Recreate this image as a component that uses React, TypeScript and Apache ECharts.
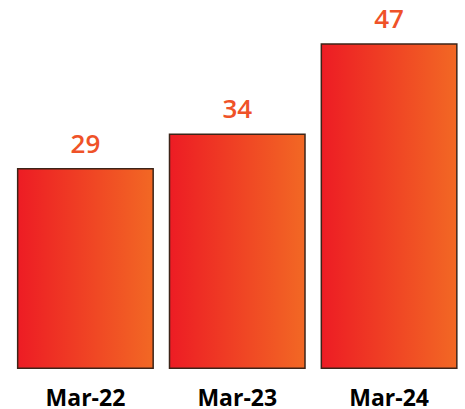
import React, { useEffect, useRef } from "react";
import * as echarts from "echarts";

const categories = ["Mar-22", "Mar-23", "Mar-24"];
const values = [29, 34, 47];

export default function App() {
  const ref = useRef<HTMLDivElement>(null);
  useEffect(() => {
    const chart = echarts.init(ref.current!, undefined, { renderer: "svg" });
    chart.setOption({
      animation: false,
      grid: { left: 9.5, width: 456, bottom: 40, top: 22.5 },
      xAxis: {
        type: "category",
        data: categories,
        axisLine: { show: false },
        axisTick: { show: false },
        axisLabel: {
          color: "#000",
          fontFamily: "Open Sans",
          fontWeight: "bold",
          fontSize: 23,
          lineHeight: 19,
          margin: 18,
        },
      },
      yAxis: {
        type: "value",
        min: 0,
        max: 50,
        show: false,
        splitLine: { show: false },
      },
      series: [
        {
          type: "bar",
          data: values,
          barWidth: 137,
          itemStyle: {
            color: new echarts.graphic.LinearGradient(0, 0, 1, 0, [
              { offset: 0, color: "#ED1C24" },
              { offset: 1, color: "#F26824" },
            ]),
            borderColor: "#3d2418",
            borderWidth: 1.5,
          },
          label: {
            show: true,
            position: "top",
            distance: 12,
            color: "#EF5228",
            fontFamily: "Open Sans",
            fontWeight: 600,
            fontSize: 26,
          },
        },
      ],
    });
    return () => chart.dispose();
  }, []);
  return (
    <div
      ref={ref}
      style={{ position: "absolute", left: 0, top: 0, width: 465, height: 409 }}
    />
  );
}
